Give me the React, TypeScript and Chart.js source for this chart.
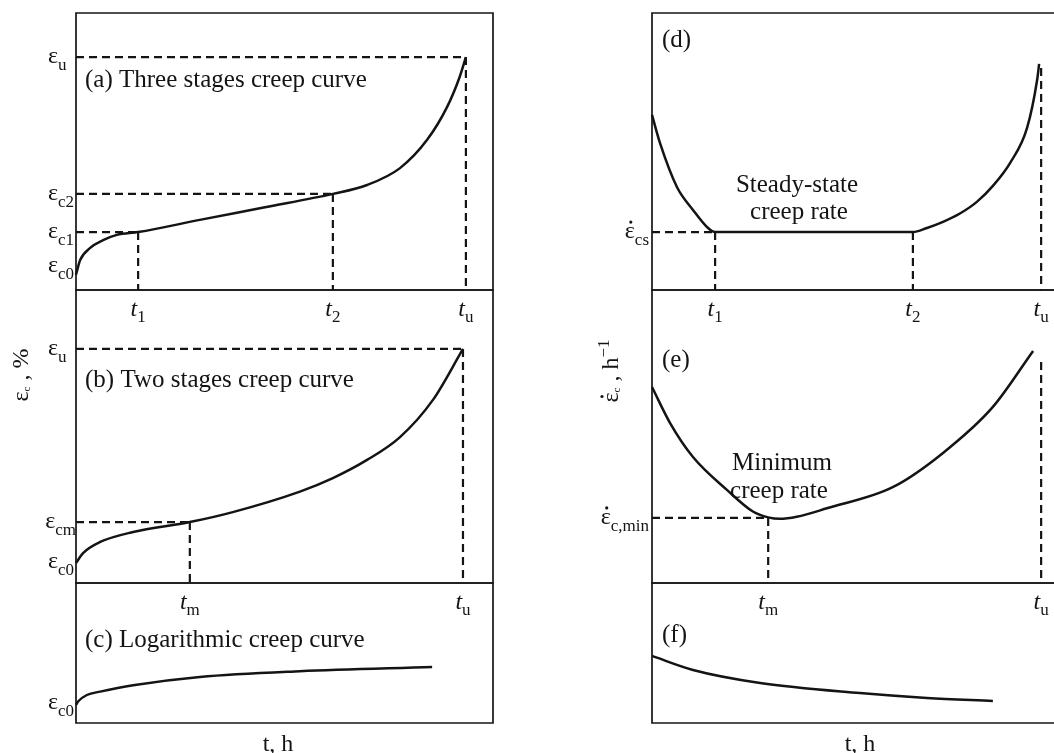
import React, { useEffect, useRef } from "react";
import { Chart, registerables } from "chart.js";
Chart.register(...registerables);

const W = 1054;
const H = 753;
const SERIF = '"Liberation Serif", "Times New Roman", serif';
const INK = "#141414";
const F_MAIN = `24px ${SERIF}`;
const F_SUB = `17px ${SERIF}`;
const F_IT = `italic 24px ${SERIF}`;
const F_TITLE = `25px ${SERIF}`;
const F_TINY = `11px ${SERIF}`;

// ---------- Panel (a): three stages creep curve ----------
const aTime = [0, 1.0, 3.4, 6.5, 9.8, 14.9, 30, 45, 61.6, 69.8, 77.7, 84.2, 89, 92, 93.5];
const aStrain = [5.5, 10.8, 15.2, 18, 19.9, 20.9, 25.4, 29.8, 34.7, 37.9, 44, 54.2, 66.1, 76.9, 84.1];
const aMarkTime = [14.9, 61.6, 93.5];
const aMarkLevel = [20.9, 34.7, 84.1];
const aMarkNames = ["1", "2", "u"];
const aLevelValues = [8.7, 20.9, 34.7, 84.1];
const aLevelSubs = ["c0", "c1", "c2", "u"];

// ---------- Panel (b): two stages creep curve ----------
const bTime = [0, 1.7, 5.8, 13.7, 27.3, 37.6, 53.7, 61.6, 69.8, 77.7, 85.6, 92.8];
const bStrain = [6.8, 10.2, 14, 17.4, 20.8, 24.2, 31.2, 35.8, 42, 49.8, 62.5, 79.9];
const bMarkTime = [27.3, 92.8];
const bMarkLevel = [20.8, 79.9];
const bMarkNames = ["m", "u"];
const bLevelValues = [7.2, 20.8, 79.9];
const bLevelSubs = ["c0", "cm", "u"];

// ---------- Panel (c): logarithmic creep curve ----------
const cTime = [0, 0.55, 2.6, 5.8, 13.7, 29.7, 53.7, 85.4];
const cStrain = [12.9, 15.5, 20, 22.4, 27, 32.9, 37, 40];
const cLevelValues = [14.3];
const cLevelSubs = ["c0"];

// ---------- Panel (d): steady-state creep rate ----------
const dTime = [0, 2.0, 6.2, 10.2, 13.7, 15.7, 40, 64.9, 68.4, 72.4, 76.6, 80.8, 84.8, 89.1, 93.3, 95.8, 96.3];
const dRate = [63.2, 53, 37.2, 28.9, 22.7, 20.9, 20.9, 20.9, 22.4, 24.6, 27.6, 31.8, 37.6, 45.9, 58.5, 75.8, 81.6];
const dMarkTime = [15.7, 64.9, 96.8];
const dMarkLevel = [20.9, 20.9, 80.1];
const dMarkNames = ["1", "2", "u"];
const dLevelValues = [20.9];
const dLevelSubs = ["cs"];

// ---------- Panel (e): minimum creep rate ----------
const eTime = [0, 4.5, 10.2, 18.7, 25.1, 28.9, 31.8, 36, 43.5, 60, 72.4, 84.8, 94.8];
const eRate = [66.9, 54.6, 43, 31.7, 24.4, 22.4, 21.9, 22.6, 25.5, 32.8, 44.4, 60.1, 79.2];
const eMarkTime = [28.9, 96.8];
const eMarkLevel = [22.2, 75.4];
const eMarkNames = ["m", "u"];
const eLevelValues = [22.2];
const eLevelSubs = ["c,min"];

// ---------- Panel (f): decreasing creep rate ----------
const fTime = [0, 10.2, 26.9, 51.7, 68.4, 84.8];
const fRate = [47.9, 37.9, 28.6, 21.4, 17.9, 15.7];

type Seg = { t: string; font: string; dy?: number; dot?: boolean };

type Panel = {
  key: string;
  col: "left" | "right";
  rect: { l: number; t: number; r: number; b: number };
  time: number[];
  value: number[];
  markTime: number[];
  markLevel: number[];
  markHoriz: boolean[];
  markNames: string[];
  levelValues: number[];
  levelSubs: string[];
  levelDot: boolean;
  title: string;
  titleFont: string;
  titlePos: { dx: number; dy: number };
  notes: { text: string; dx: number; dy: number }[];
  yTitle?: { segs: Seg[]; x: number; y: number };
  xTitle?: { text: string; x: number; y: number };
};

function segWidth(ctx: CanvasRenderingContext2D, segs: Seg[]) {
  let w = 0;
  for (const s of segs) {
    ctx.font = s.font;
    w += ctx.measureText(s.t).width;
  }
  return w;
}

function drawRich(
  ctx: CanvasRenderingContext2D,
  segs: Seg[],
  x: number,
  y: number,
  align: "left" | "right" | "center"
) {
  const w = segWidth(ctx, segs);
  let cx = align === "left" ? x : align === "right" ? x - w : x - w / 2;
  ctx.textAlign = "left";
  ctx.textBaseline = "alphabetic";
  for (const s of segs) {
    ctx.font = s.font;
    const sw = ctx.measureText(s.t).width;
    ctx.fillText(s.t, cx, y + (s.dy || 0));
    if (s.dot) {
      ctx.beginPath();
      ctx.arc(cx + sw / 2 + 1, y + (s.dy || 0) - 16, 1.6, 0, Math.PI * 2);
      ctx.fill();
    }
    cx += sw;
  }
}

const LEFT_X = { l: 76, r: 493 };
const RIGHT_X = { l: 652, r: 1054 };

const panels: Panel[] = [
  {
    key: "a",
    col: "left",
    rect: { l: LEFT_X.l, t: 13, r: LEFT_X.r, b: 290 },
    time: aTime,
    value: aStrain,
    markTime: aMarkTime,
    markLevel: aMarkLevel,
    markHoriz: [true, true, true],
    markNames: aMarkNames,
    levelValues: aLevelValues,
    levelSubs: aLevelSubs,
    levelDot: false,
    title: "(a) Three stages creep curve",
    titleFont: F_TITLE,
    titlePos: { dx: 9, dy: 74 },
    notes: [],
  },
  {
    key: "b",
    col: "left",
    rect: { l: LEFT_X.l, t: 290, r: LEFT_X.r, b: 583 },
    time: bTime,
    value: bStrain,
    markTime: bMarkTime,
    markLevel: bMarkLevel,
    markHoriz: [true, true],
    markNames: bMarkNames,
    levelValues: bLevelValues,
    levelSubs: bLevelSubs,
    levelDot: false,
    title: "(b) Two stages creep curve",
    titleFont: F_TITLE,
    titlePos: { dx: 9, dy: 97 },
    notes: [],
    yTitle: {
      segs: [
        { t: "ε", font: F_MAIN },
        { t: "c", font: F_TINY, dy: 2 },
        { t: " , %", font: F_MAIN },
      ],
      x: 28,
      y: 375,
    },
  },
  {
    key: "c",
    col: "left",
    rect: { l: LEFT_X.l, t: 583, r: LEFT_X.r, b: 723 },
    time: cTime,
    value: cStrain,
    markTime: [],
    markLevel: [],
    markHoriz: [],
    markNames: [],
    levelValues: cLevelValues,
    levelSubs: cLevelSubs,
    levelDot: false,
    title: "(c) Logarithmic creep curve",
    titleFont: F_TITLE,
    titlePos: { dx: 9, dy: 64 },
    notes: [],
    xTitle: { text: "t, h", x: 278, y: 751 },
  },
  {
    key: "d",
    col: "right",
    rect: { l: RIGHT_X.l, t: 13, r: RIGHT_X.r, b: 290 },
    time: dTime,
    value: dRate,
    markTime: dMarkTime,
    markLevel: dMarkLevel,
    markHoriz: [true, false, false],
    markNames: dMarkNames,
    levelValues: dLevelValues,
    levelSubs: dLevelSubs,
    levelDot: true,
    title: "(d)",
    titleFont: F_TITLE,
    titlePos: { dx: 10, dy: 34 },
    notes: [
      { text: "Steady-state", dx: 145, dy: 179 },
      { text: "creep rate", dx: 147, dy: 206 },
    ],
  },
  {
    key: "e",
    col: "right",
    rect: { l: RIGHT_X.l, t: 290, r: RIGHT_X.r, b: 583 },
    time: eTime,
    value: eRate,
    markTime: eMarkTime,
    markLevel: eMarkLevel,
    markHoriz: [true, false],
    markNames: eMarkNames,
    levelValues: eLevelValues,
    levelSubs: eLevelSubs,
    levelDot: true,
    title: "(e)",
    titleFont: F_TITLE,
    titlePos: { dx: 10, dy: 77 },
    notes: [
      { text: "Minimum", dx: 130, dy: 180 },
      { text: "creep rate", dx: 127, dy: 208 },
    ],
    yTitle: {
      segs: [
        { t: "ε", font: F_MAIN, dot: true },
        { t: "c", font: F_TINY, dy: 2 },
        { t: " , h", font: F_MAIN },
        { t: "−1", font: F_SUB, dy: -9 },
      ],
      x: 618,
      y: 371,
    },
  },
  {
    key: "f",
    col: "right",
    rect: { l: RIGHT_X.l, t: 583, r: RIGHT_X.r, b: 723 },
    time: fTime,
    value: fRate,
    markTime: [],
    markLevel: [],
    markHoriz: [],
    markNames: [],
    levelValues: [],
    levelSubs: [],
    levelDot: false,
    title: "(f)",
    titleFont: F_TITLE,
    titlePos: { dx: 10, dy: 59 },
    notes: [],
    xTitle: { text: "t, h", x: 860, y: 751 },
  },
];

function makeDecor(p: Panel) {
  return {
    id: "decor_" + p.key,
    afterDraw(chart: any) {
      const ctx: CanvasRenderingContext2D = chart.ctx;
      const a = chart.chartArea;
      const xs = chart.scales.x;
      const ys = chart.scales.y;
      ctx.save();
      // frame
      ctx.strokeStyle = INK;
      ctx.lineWidth = 1.7;
      ctx.setLineDash([]);
      ctx.beginPath();
      if (p.col === "left") {
        ctx.rect(a.left, a.top, a.right - a.left, a.bottom - a.top);
      } else {
        ctx.moveTo(a.right + 5, a.top);
        ctx.lineTo(a.left, a.top);
        ctx.lineTo(a.left, a.bottom);
        ctx.lineTo(a.right + 5, a.bottom);
      }
      ctx.stroke();

      ctx.fillStyle = INK;
      // level labels on the y side
      p.levelValues.forEach((v, i) => {
        const y = ys.getPixelForValue(v);
        const segs: Seg[] = [
          { t: "ε", font: F_MAIN, dot: p.levelDot },
          { t: p.levelSubs[i], font: F_SUB, dy: 7 },
        ];
        const w = segWidth(ctx, segs);
        let xl: number;
        if (p.col === "left") xl = Math.min(a.left - 28, a.left - w);
        else xl = a.left - 3 - w;
        drawRich(ctx, segs, xl, y + 6, "left");
      });

      // time labels below the panel
      p.markTime.forEach((t, i) => {
        const x = xs.getPixelForValue(t);
        const segs: Seg[] = [
          { t: "t", font: F_IT },
          { t: p.markNames[i], font: F_SUB, dy: 6 },
        ];
        drawRich(ctx, segs, x, a.bottom + 26, "center");
      });

      // panel title
      ctx.font = p.titleFont;
      ctx.textAlign = "left";
      ctx.textBaseline = "alphabetic";
      ctx.fillText(p.title, a.left + p.titlePos.dx, a.top + p.titlePos.dy);

      // notes
      p.notes.forEach((n) => {
        ctx.font = F_TITLE;
        ctx.textAlign = "center";
        ctx.fillText(n.text, a.left + n.dx, a.top + n.dy);
      });

      // column axis titles
      if (p.yTitle) {
        ctx.save();
        ctx.translate(p.yTitle.x, p.yTitle.y);
        ctx.rotate(-Math.PI / 2);
        drawRich(ctx, p.yTitle.segs, 0, 0, "center");
        ctx.restore();
      }
      if (p.xTitle) {
        ctx.font = F_MAIN;
        ctx.textAlign = "center";
        ctx.textBaseline = "alphabetic";
        ctx.fillText(p.xTitle.text, p.xTitle.x, p.xTitle.y);
      }
      ctx.restore();
    },
  };
}

function PanelChart({ p }: { p: Panel }) {
  const ref = useRef<HTMLCanvasElement | null>(null);
  useEffect(() => {
    if (!ref.current) return;
    const datasets: any[] = [
      {
        data: p.time.map((t, i) => ({ x: t, y: p.value[i] })),
        borderColor: INK,
        borderWidth: 2.5,
        pointRadius: 0,
        cubicInterpolationMode: "monotone",
        fill: false,
        clip: false,
      },
    ];
    const dashStyle = {
      borderColor: INK,
      borderWidth: 2.2,
      borderDash: [8, 5],
      pointRadius: 0,
      tension: 0,
      fill: false,
      clip: false,
    };
    p.markTime.forEach((t, i) => {
      const lv = p.markLevel[i];
      if (p.markHoriz[i]) {
        datasets.push({
          ...dashStyle,
          data: [
            { x: 0, y: lv },
            { x: t, y: lv },
          ],
        });
      }
      datasets.push({
        ...dashStyle,
        data: [
          { x: t, y: lv },
          { x: t, y: 0 },
        ],
      });
    });

    const chart = new Chart(ref.current, {
      type: "line",
      data: { datasets },
      options: {
        responsive: false,
        animation: false,
        devicePixelRatio: 1,
        layout: {
          padding: {
            left: p.rect.l,
            top: p.rect.t,
            right: W - p.rect.r,
            bottom: H - p.rect.b,
          },
        },
        scales: {
          x: { type: "linear", min: 0, max: 100, display: false },
          y: { type: "linear", min: 0, max: 100, display: false },
        },
        plugins: {
          legend: { display: false },
          tooltip: { enabled: false },
          title: { display: false },
        },
        events: [],
      } as any,
      plugins: [makeDecor(p)],
    });
    return () => chart.destroy();
  }, [p]);
  return (
    <canvas
      ref={ref}
      width={W}
      height={H}
      style={{ position: "absolute", left: 0, top: 0, width: W, height: H }}
    />
  );
}

export default function App() {
  return (
    <div
      style={{
        position: "absolute",
        left: 0,
        top: 0,
        width: W,
        height: H,
        background: "#fff",
        overflow: "hidden",
      }}
    >
      {panels.map((p) => (
        <PanelChart key={p.key} p={p} />
      ))}
    </div>
  );
}
